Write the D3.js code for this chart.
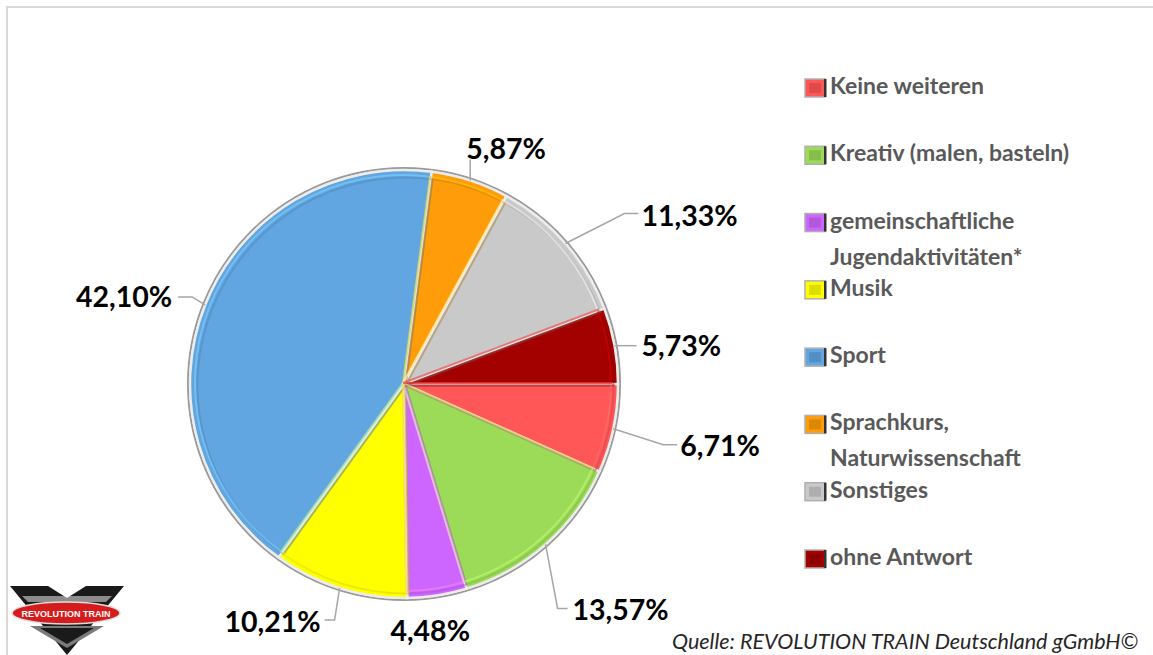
<!DOCTYPE html>
<html lang="de">
<head>
<meta charset="utf-8">
<title>Freizeitaktivitäten</title>
<script src="https://d3js.org/d3.v7.min.js"></script>
<style>
    body { margin: 0; background: #fff; }
    svg { display: block; }
    .pct { font-family: Lato, "Open Sans", sans-serif; font-weight: bold; font-size: 28.5px; fill: #000; }
    .leg { font-family: Lato, "Open Sans", sans-serif; font-weight: bold; font-size: 23px; fill: #595959; }
    .src { font-family: Lato, "Open Sans", sans-serif; font-style: italic; font-size: 21.5px; fill: #262626; }
</style>
</head>
<body>
<svg width="1153" height="655"></svg>
<script>
// data, in pie order (clockwise from 3 o'clock)
var categories = ["Keine weiteren", "Kreativ (malen, basteln)", "gemeinschaftliche Jugendaktivitäten*",
                  "Musik", "Sport", "Sprachkurs, Naturwissenschaft", "Sonstiges", "ohne Antwort"];
var legendLines = [["Keine weiteren"], ["Kreativ (malen, basteln)"], ["gemeinschaftliche", "Jugendaktivitäten*"],
                   ["Musik"], ["Sport"], ["Sprachkurs,", "Naturwissenschaft"], ["Sonstiges"], ["ohne Antwort"]];
var values = [6.71, 13.57, 4.48, 10.21, 42.10, 5.87, 11.33, 5.73];
var labels = ["6,71%", "13,57%", "4,48%", "10,21%", "42,10%", "5,87%", "11,33%", "5,73%"];
var colors = ["#ff5757", "#9bdb58", "#cc66ff", "#ffff00", "#61a5e1", "#ff9c0a", "#c9c9c9", "#a30000"];

// label placement: elbow offset from slice edge, horizontal tail, text offset from tail end
var labelLayout = [
    {elbow: [50, 16],  tail: 14,  text: [3, 1],    anchor: "start"},
    {elbow: [12, 64],  tail: 10,  text: [5, 2],    anchor: "start"},
    {elbow: [0, 0],    tail: 0,   text: [-7, 36],  anchor: "middle", noLine: true},
    {elbow: [-5, 32],  tail: -10, text: [-4, 2],   anchor: "end"},
    {elbow: [-13, -8], tail: -14, text: [-6, 0],   anchor: "end"},
    {elbow: [0, -21],  tail: 0,   text: [-4, -10], anchor: "start"},
    {elbow: [59, -30], tail: 14,  text: [3, 2],    anchor: "start"},
    {elbow: [0, 0],    tail: 22,  text: [5, 0],    anchor: "start"}
];

var svg = d3.select("svg");
var cx = 404, cy = 384, r = 214;

// chart frame
svg.append("path")
    .attr("d", "M7,655 V7 H1153")
    .attr("fill", "none")
    .attr("stroke", "#d9d9d9")
    .attr("stroke-width", 2);

var pie = d3.pie().sort(null).value(function(d) { return d; })
    .startAngle(Math.PI / 2).endAngle(Math.PI / 2 + 2 * Math.PI);
var arcs = pie(values);
var arc = d3.arc().innerRadius(0).outerRadius(r);
var inner = d3.arc().innerRadius(0).outerRadius(r - 6);

var g = svg.append("g").attr("transform", "translate(" + cx + "," + cy + ")");

// outer rim
g.append("circle").attr("r", r + 2).attr("fill", "none").attr("stroke", "#9a9a9a").attr("stroke-width", 2);

g.selectAll(".slice")
    .data(arcs)
    .enter().append("path")
    .attr("class", "slice")
    .attr("d", arc)
    .attr("fill", function(d, i) { return colors[i]; })
    .attr("stroke", "#ececec")
    .attr("stroke-width", 2.5);

// bevel: light inner edge + dark shadow edge
g.selectAll(".bevel")
    .data(arcs)
    .enter().append("path")
    .attr("class", "bevel")
    .attr("d", inner)
    .attr("fill", "none")
    .attr("stroke", function(d, i) { return d3.color(colors[i]).darker(0.6); })
    .attr("stroke-width", 2)
    .attr("opacity", 0.45)
    .attr("transform", "translate(1.5,1.5)");
g.selectAll(".shine")
    .data(arcs)
    .enter().append("path")
    .attr("class", "shine")
    .attr("d", inner)
    .attr("fill", "none")
    .attr("stroke", function(d, i) { return d3.color(colors[i]).brighter(0.8); })
    .attr("stroke-width", 2)
    .attr("opacity", 0.5)
    .attr("transform", "translate(-1,-1)");

// labels with leader lines
arcs.forEach(function(d, i) {
    var a = (d.startAngle + d.endAngle) / 2;
    var p0 = [cx + r * Math.sin(a), cy - r * Math.cos(a)];
    var L = labelLayout[i];
    var p1 = [p0[0] + L.elbow[0], p0[1] + L.elbow[1]];
    var p2 = [p1[0] + L.tail, p1[1]];
    if (!L.noLine) {
        svg.append("polyline")
            .attr("points", [p0, p1, p2].map(function(p) { return p.join(","); }).join(" "))
            .attr("fill", "none")
            .attr("stroke", "#a6a6a6")
            .attr("stroke-width", 1.5);
    }
    svg.append("text")
        .attr("class", "pct")
        .attr("x", p2[0] + L.text[0])
        .attr("y", p2[1] + L.text[1] + 10)
        .attr("text-anchor", L.anchor)
        .text(labels[i]);
});

// legend
var legend = svg.append("g");
var ly = d3.scaleLinear().domain([0, categories.length - 1]).range([94, 565]);
categories.forEach(function(c, i) {
    var y = ly(i);
    var item = legend.append("g");
    item.append("rect").attr("x", 805).attr("y", y - 15).attr("width", 20).attr("height", 18)
        .attr("fill", colors[i]).attr("stroke", "#b0b0b0").attr("stroke-width", 1.5);
    item.append("rect").attr("x", 809).attr("y", y - 11).attr("width", 12).attr("height", 10)
        .attr("fill", d3.color(colors[i]).darker(0.4));
    item.append("rect").attr("x", 824).attr("y", y - 15).attr("width", 2.5).attr("height", 18)
        .attr("fill", "#333");
    legendLines[i].forEach(function(line, k) {
        item.append("text").attr("class", "leg")
            .attr("x", 830).attr("y", y + k * 36)
            .text(line);
    });
});

// source
svg.append("text").attr("class", "src").attr("x", 672).attr("y", 649)
    .text("Quelle: REVOLUTION TRAIN Deutschland gGmbH©");

// logo
var logo = svg.append("g");
logo.append("path").attr("d", "M10,586 L124,586 L67,655 Z").attr("fill", "#1a1a1a");
logo.append("path").attr("d", "M22,596 L112,596 L106,602 L28,602 Z").attr("fill", "#8c8c8c");
logo.append("path").attr("d", "M48,586 L86,586 L67,598 Z").attr("fill", "#fff");
logo.append("path").attr("d", "M30,626 L104,626 L67,648 Z").attr("fill", "#7a7a7a");
logo.append("path").attr("d", "M40,628 L94,628 L67,644 Z").attr("fill", "#1a1a1a");
logo.append("ellipse").attr("cx", 66).attr("cy", 613).attr("rx", 54).attr("ry", 11)
    .attr("fill", "#d41c1c").attr("stroke", "#ddd").attr("stroke-width", 1.5);
logo.append("text").attr("x", 66).attr("y", 616.5).attr("text-anchor", "middle")
    .attr("font-family", "Liberation Sans, sans-serif").attr("font-size", 9).attr("font-weight", "bold")
    .attr("fill", "#fff").text("REVOLUTION TRAIN");
</script>
</body>
</html>
